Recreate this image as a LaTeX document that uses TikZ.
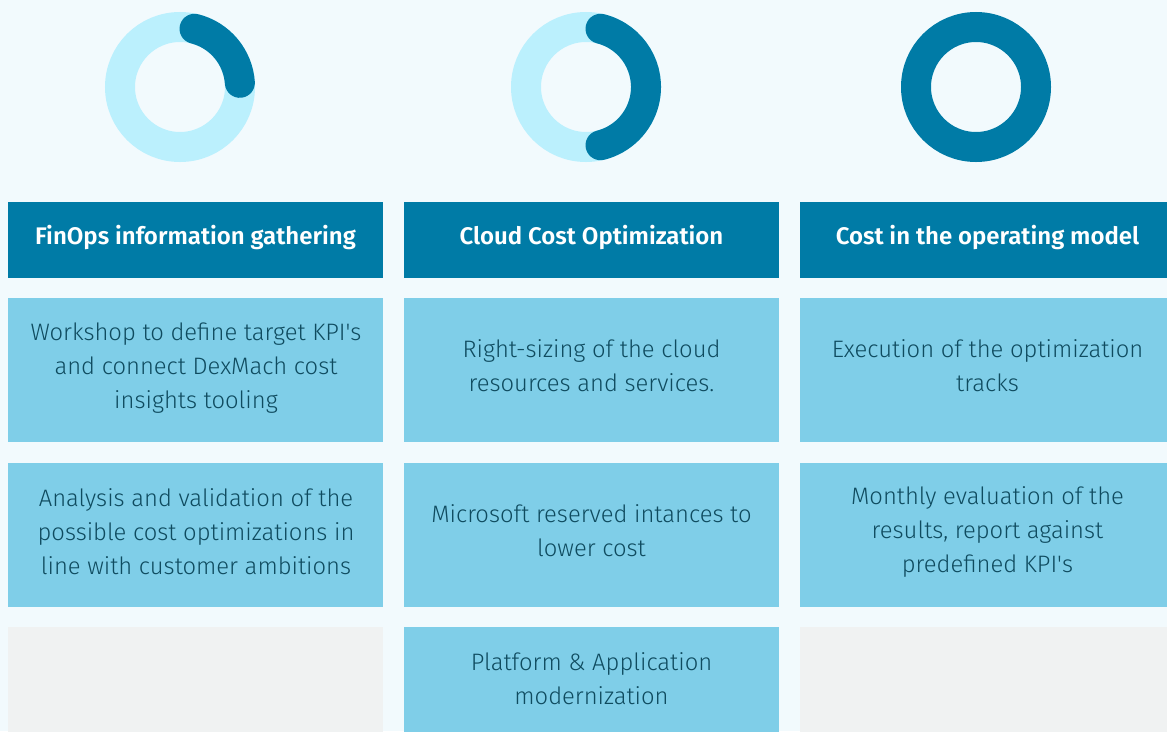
\documentclass[tikz,border=0pt]{standalone}
\usepackage{fontspec}
\setmainfont{Fira Sans}[UprightFont=* Light, BoldFont=* SemiBold]
\definecolor{bgc}{HTML}{F2FAFD}
\definecolor{darkc}{HTML}{007BA6}
\definecolor{ringc}{HTML}{BBF0FD}
\definecolor{boxc}{HTML}{7FCEE8}
\definecolor{grayc}{HTML}{F0F2F2}
\definecolor{txtc}{HTML}{0F4B5F}
\newcommand{\apo}{\textquotesingle}
\tikzset{
  hdrbox/.style={fill=darkc, draw=none, minimum width=375pt, minimum height=76pt, inner sep=0pt},
  cellbox/.style={fill=boxc, draw=none, minimum width=375pt, minimum height=144pt, inner sep=0pt},
  emptybox/.style={fill=grayc, draw=none, minimum width=375pt, minimum height=144pt, inner sep=0pt},
  hdrtxt/.style={text=white, font=\fontsize{24}{28}\selectfont\bfseries, inner sep=0pt},
  celltxt/.style={text=txtc, font=\fontsize{23.8}{34}\selectfont, align=center, inner sep=0pt},
  ringbg/.style={draw=ringc, line width=30pt},
  ringfg/.style={draw=darkc, line width=30pt, line cap=round},
}
\begin{document}
\begin{tikzpicture}[x=1pt,y=-1pt]
\useasboundingbox (0,0) rectangle (1167,731);
\fill[bgc] (0,0) rectangle (1167,731);
\begin{scope}
\clip (0,0) rectangle (1167,731);
% donuts
\coordinate (d1) at (180,87);
\coordinate (d2) at (586,87);
\coordinate (d3) at (976,87);
\draw[ringbg] (d1) circle[radius=60];
\draw[ringfg] (d1) ++(-76:60) arc[start angle=-76, end angle=-4, radius=60];
\draw[ringbg] (d2) circle[radius=60];
\draw[ringfg] (d2) ++(-76:60) arc[start angle=-76, end angle=76, radius=60];
\draw[draw=darkc, line width=30pt] (d3) circle[radius=60];
% headers
\node[hdrbox] (h1) at (195.5,240) {};
\node[hdrbox] (h2) at (591.5,240) {};
\node[hdrbox] (h3) at (987.5,240) {};
\node[hdrtxt] (th1) at (195.5,237) {FinOps information gathering};
\node[hdrtxt] (th2) at (591.5,237) {Cloud Cost Optimization};
\node[hdrtxt] (th3) at (987.5,237) {Cost in the operating model};
% row 1
\node[cellbox] (a1) at (195.5,370) {};
\node[cellbox] (a2) at (591.5,370) {};
\node[cellbox] (a3) at (987.5,370) {};
\node[celltxt] (ta1) at (196,368) {Workshop to define target KPI\apo s\\and connect DexMach cost\\insights tooling};
\node[celltxt] (ta2) at (591.5,366) {Right-sizing of the cloud\\resources and services.};
\node[celltxt] (ta3) at (987.5,366) {Execution of the optimization\\tracks};
% row 2
\node[cellbox] (b1) at (195.5,534.5) {};
\node[cellbox] (b2) at (591.5,534.5) {};
\node[cellbox] (b3) at (987.5,534.5) {};
\node[celltxt] (tb1) at (196,532) {Analysis and validation of the\\possible cost optimizations in\\line with customer ambitions};
\node[celltxt] (tb2) at (591.5,531) {Microsoft reserved intances to\\lower cost};
\node[celltxt] (tb3) at (987.5,532) {Monthly evaluation of the\\results, report against\\predefined KPI\apo s};
% row 3
\node[emptybox] (c1) at (195.5,699) {};
\node[cellbox] (c2) at (591.5,699) {};
\node[emptybox] (c3) at (987.5,699) {};
\node[celltxt] (tc2) at (591.5,679) {Platform \& Application\\modernization};
\end{scope}
\end{tikzpicture}
\end{document}
